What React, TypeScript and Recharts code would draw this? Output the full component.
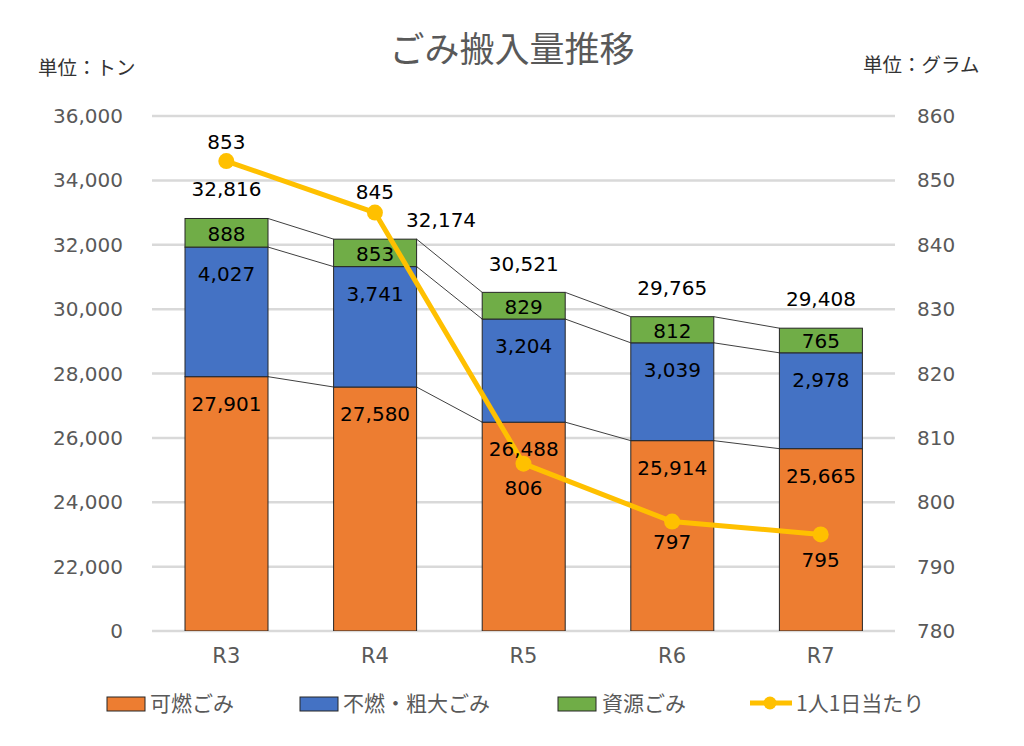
import { ComposedChart, Bar, Line, XAxis, YAxis, CartesianGrid, LabelList } from "recharts";

// 年度
const categories = ["R3", "R4", "R5", "R6", "R7"];
// 搬入量（トン）
const burnable = [27901, 27580, 26488, 25914, 25665];
const bulky = [4027, 3741, 3204, 3039, 2978];
const resource = [888, 853, 829, 812, 765];
// 1人1日当たり（グラム）
const perPerson = [853, 845, 806, 797, 795];

const leftTicks = [20000, 22000, 24000, 26000, 28000, 30000, 32000, 34000, 36000];
const rightTicks = [780, 790, 800, 810, 820, 830, 840, 850, 860];

// label nudges (px)
const totalDx = [0, 66, 0, 0, 0];
const totalDy = [-29, -19, -28, -29, -29];
const lineLabelDy = [-19, -21, 24, 20, 26];

const data = categories.map((name, i) => ({
  name,
  burnable: burnable[i],
  bulky: bulky[i],
  resource: resource[i],
  perPerson: perPerson[i],
}));

const NUM_FONT = "'DejaVu Sans', 'Noto Sans CJK JP', sans-serif";
const JP_FONT = "'Noto Sans CJK JP', 'DejaVu Sans', sans-serif";
const fmt = (v: number) => Number(v).toLocaleString("en-US");

// remember the top-right corner of each segment so the next bar can draw the series line
const corners: Record<string, { x: number; y: number }[]> = {};

function segmentShape(key: string, fill: string) {
  return (props: any) => {
    const { x, y, width, height, index } = props;
    if (!corners[key]) corners[key] = [];
    corners[key][index] = { x: x + width, y };
    const prev = index > 0 ? corners[key][index - 1] : undefined;
    return (
      <g>
        <rect x={x} y={y} width={width} height={height} fill={fill} stroke="#262626" strokeWidth={1} />
        {prev && <line x1={prev.x} y1={prev.y} x2={x} y2={y} stroke="#404040" strokeWidth={1} />}
      </g>
    );
  };
}

const box = (p: any) => {
  const vb = p.viewBox && p.viewBox.x != null ? p.viewBox : p;
  return { x: vb.x ?? 0, y: vb.y ?? 0, w: vb.width ?? 0, h: vb.height ?? 0 };
};

function insideTopLabel(dy: number) {
  return (p: any) => {
    const b = box(p);
    return (
      <text x={b.x + b.w / 2} y={b.y + dy} textAnchor="middle" dominantBaseline="central"
        fontSize={20} fontFamily={NUM_FONT} fill="#000">{fmt(p.value)}</text>
    );
  };
}

const centerLabel = (p: any) => {
  const b = box(p);
  return (
    <text x={b.x + b.w / 2} y={b.y + b.h / 2 + 1} textAnchor="middle" dominantBaseline="central"
      fontSize={20} fontFamily={NUM_FONT} fill="#000">{fmt(p.value)}</text>
  );
};

const totalLabel = (p: any) => {
  const b = box(p);
  const i = p.index ?? 0;
  const total = burnable[i] + bulky[i] + resource[i];
  return (
    <text x={b.x + b.w / 2 + totalDx[i]} y={b.y + totalDy[i]} textAnchor="middle" dominantBaseline="central"
      fontSize={20} fontFamily={NUM_FONT} fill="#000">{fmt(total)}</text>
  );
};

const lineLabel = (p: any) => {
  const b = box(p);
  const i = p.index ?? 0;
  return (
    <text x={b.x} y={b.y + lineLabelDy[i]} textAnchor="middle" dominantBaseline="central"
      fontSize={20} fontFamily={NUM_FONT} fill="#000">{p.value}</text>
  );
};

const tickStyle = { fontSize: 20, fontFamily: NUM_FONT, fill: "#595959" };

export default function App() {
  return (
    <div style={{ position: "absolute", left: 0, top: 0, width: 1024, height: 746, background: "#fff" }}>
      <ComposedChart width={1024} height={746} data={data} margin={{ top: 116, right: 0, bottom: 75, left: 0 }}>
        <CartesianGrid vertical={false} stroke="#D9D9D9" strokeWidth={2.5} yAxisId="left" />
        <XAxis dataKey="name" height={40} axisLine={false} tickLine={false} tickSize={0} tickMargin={17}
          tick={{ ...tickStyle, fontSize: 21 }} />
        <YAxis yAxisId="left" width={152} domain={[20000, 36000]} ticks={leftTicks} allowDataOverflow
          axisLine={false} tickLine={false} tickSize={0} tickMargin={29} tick={tickStyle}
          tickFormatter={(v: number) => (v === 20000 ? "0" : fmt(v))} />
        <YAxis yAxisId="right" orientation="right" width={129} domain={[780, 860]} ticks={rightTicks}
          allowDataOverflow axisLine={false} tickLine={false} tickSize={0} tickMargin={22} tick={tickStyle} />
        <Bar yAxisId="left" dataKey="burnable" stackId="a" barSize={83} fill="#ED7D31"
          shape={segmentShape("burnable", "#ED7D31")} isAnimationActive={false}>
          <LabelList dataKey="burnable" content={insideTopLabel(27)} />
        </Bar>
        <Bar yAxisId="left" dataKey="bulky" stackId="a" barSize={83} fill="#4472C4"
          shape={segmentShape("bulky", "#4472C4")} isAnimationActive={false}>
          <LabelList dataKey="bulky" content={insideTopLabel(27)} />
        </Bar>
        <Bar yAxisId="left" dataKey="resource" stackId="a" barSize={83} fill="#70AD47"
          shape={segmentShape("resource", "#70AD47")} isAnimationActive={false}>
          <LabelList dataKey="resource" content={centerLabel} />
          <LabelList dataKey="resource" content={totalLabel} />
        </Bar>
        <Line yAxisId="right" dataKey="perPerson" type="linear" stroke="#FFC000" strokeWidth={5}
          dot={{ r: 8, fill: "#FFC000", stroke: "#FFC000", strokeWidth: 0 }} activeDot={false}
          isAnimationActive={false}>
          <LabelList dataKey="perPerson" content={lineLabel} />
        </Line>
      </ComposedChart>

      <svg width={1024} height={746} style={{ position: "absolute", left: 0, top: 0, pointerEvents: "none" }}>
        <text x={512} y={46} textAnchor="middle" dominantBaseline="central" fontSize={35}
          fontFamily={JP_FONT} fill="#595959">ごみ搬入量推移</text>
        <text x={38} y={66} dominantBaseline="central" fontSize={19.5} fontFamily={JP_FONT} fill="#333">単位：トン</text>
        <text x={863} y={63} dominantBaseline="central" fontSize={19.5} fontFamily={JP_FONT} fill="#333">単位：グラム</text>

        <rect x={107} y={697} width={38} height={14} fill="#ED7D31" stroke="#262626" strokeWidth={1} />
        <text x={150} y={702} dominantBaseline="central" fontSize={21} fontFamily={JP_FONT} fill="#595959">可燃ごみ</text>
        <rect x={300} y={697} width={38} height={14} fill="#4472C4" stroke="#262626" strokeWidth={1} />
        <text x={343} y={702} dominantBaseline="central" fontSize={21} fontFamily={JP_FONT} fill="#595959">不燃・粗大ごみ</text>
        <rect x={558} y={697} width={38} height={14} fill="#70AD47" stroke="#262626" strokeWidth={1} />
        <text x={602} y={702} dominantBaseline="central" fontSize={21} fontFamily={JP_FONT} fill="#595959">資源ごみ</text>
        <line x1={750} y1={703} x2={792} y2={703} stroke="#FFC000" strokeWidth={5} />
        <circle cx={770} cy={703} r={6.5} fill="#FFC000" />
        <text x={796} y={702} dominantBaseline="central" fontSize={21} fontFamily={JP_FONT} fill="#595959">1人1日当たり</text>
      </svg>
    </div>
  );
}
